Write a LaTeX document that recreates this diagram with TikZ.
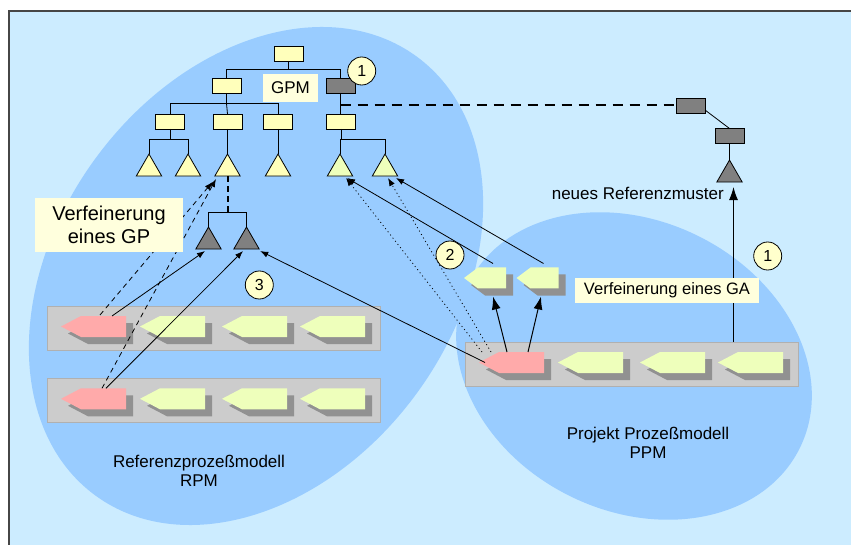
\documentclass[tikz,border=0pt]{standalone}
\usepackage{fontspec}
\setmainfont{Liberation Sans}
\usetikzlibrary{calc,arrows.meta,shapes.geometric}
\definecolor{bgblue}{RGB}{204,236,255}
\definecolor{ellblue}{RGB}{153,204,255}
\definecolor{treey}{RGB}{255,255,187}
\definecolor{trig}{RGB}{238,255,187}
\definecolor{pentg}{RGB}{238,255,187}
\definecolor{pinkc}{RGB}{255,170,170}
\definecolor{rowgray}{RGB}{204,204,204}
\definecolor{rowedge}{RGB}{176,176,176}
\definecolor{shadowc}{RGB}{145,145,145}
\definecolor{darkg}{RGB}{128,128,128}
\definecolor{creamc}{RGB}{255,255,221}
\definecolor{circc}{RGB}{255,255,204}
\definecolor{framec}{RGB}{70,70,70}
\tikzset{
  trect/.style={draw, fill=treey, line width=0.8pt, minimum width=29pt, minimum height=15pt, inner sep=0pt, outer sep=0pt},
  grect/.style={trect, fill=darkg},
  tri/.style={draw, fill=treey, line width=0.8pt, regular polygon, regular polygon sides=3, minimum size=29.3pt, inner sep=0pt, outer sep=0pt},
  grtri/.style={tri, fill=darkg},
  grtri2/.style={tri, fill=trig},
  rowbox/.style={draw=rowedge, fill=rowgray, line width=1pt, minimum width=333pt, minimum height=44pt, inner sep=0pt},
  pbox/.style={rectangle, draw=none, minimum height=21pt, inner sep=0pt, outer sep=0pt},
  lbl/.style={inner sep=0pt, font=\fontsize{17}{19}\selectfont},
  cream/.style={fill=creamc, inner sep=0pt},
  numc/.style={circle, draw, fill=circc, line width=0.8pt, minimum size=28pt, inner sep=0pt, font=\fontsize{16}{18}\selectfont},
  tline/.style={line width=0.8pt},
  arr/.style={line width=0.8pt, -{Latex[length=8pt,width=6pt]}},
  bigarr/.style={line width=1pt, -{Latex[length=13pt,width=9pt]}},
  thickdash/.style={line width=2pt, dash pattern=on 10pt off 7pt},
  thindash/.style={dash pattern=on 5pt off 4pt},
  dotline/.style={dash pattern=on 1pt off 3pt}
}
\newcommand\pentshape[5]{%
  \node[pbox, minimum width=#3] (#1) at (#2) {};
  \fill[shadowc] ($(#1.west)+(7,7)$) -- ($(#1.north west)+(#4+7,7)$) -- ($(#1.north east)+(7,7)$) -- ($(#1.south east)+(7,7)$) -- ($(#1.south west)+(#4+7,7)$) -- cycle;
  \fill[#5] (#1.west) -- ($(#1.north west)+(#4,0)$) -- (#1.north east) -- (#1.south east) -- ($(#1.south west)+(#4,0)$) -- cycle;
}
\begin{document}
\begin{tikzpicture}[x=1pt,y=-1pt]
\useasboundingbox (0,0) rectangle (851,545);
\fill[white] (0,0) rectangle (851,545);
\fill[bgblue] (9,11) rectangle (851,545);
\draw[framec, line width=1.5pt] (9,545) -- (9,11) -- (851,11);
% ellipses
\fill[ellblue, rotate around={53.8:(256,276)}] (256,276) ellipse [x radius=272, y radius=199];
\fill[ellblue, rotate around={-26.4:(634,366)}] (634,366) ellipse [x radius=185, y radius=145];

% ---- tree (GPM)
\node[trect] (root) at (288.5,53.5) {};
\node[trect] (l2a) at (226.5,85.5) {};
\node[grect] (l2b) at (340.5,85.5) {};
\node[trect] (l3a) at (170,121.5) {};
\node[trect] (l3b) at (227.5,121.5) {};
\node[trect] (l3c) at (278,121.5) {};
\node[trect] (l3d) at (341,121.5) {};
\node[tri] (t1) at (149,168.7) {};
\node[tri] (t2) at (188,168.7) {};
\node[tri] (t3) at (227.5,168.7) {};
\node[tri] (t4) at (278,168.7) {};
\node[grtri2] (t5) at (340,168.7) {};
\node[grtri2] (t6) at (385,168.7) {};
\node[grtri] (g1) at (208.5,241.7) {};
\node[grtri] (g2) at (246.5,241.7) {};

\draw[tline] (root.south) -- ++(0,8.5) coordinate (rb);
\draw[tline] (rb) -| (l2a.north);
\draw[tline] (rb) -| (l2b.north);
\draw[tline] (l2a.south) -- ++(0,10.5) coordinate (ab);
\draw[tline] (ab) -| (l3a.north);
\draw[tline] (ab) -- (l3b.north);
\draw[tline] (ab) -| (l3c.north);
\draw[tline] (l2b.south) -- (l2b.south |- l3d.north);
\draw[tline] (l3a.south) -- ++(0,10.5) coordinate (cb);
\draw[tline] (cb) -| (t1.north);
\draw[tline] (cb) -| (t2.north);
\draw[tline] (l3b.south) -- (t3.north);
\draw[tline] (l3c.south) -- (t4.north);
\draw[tline] (l3d.south) -- ++(0,10) coordinate (db);
\draw[tline] (db) -| (t5.north);
\draw[tline] (db) -| (t6.north);
\draw[line width=2pt, dash pattern=on 6pt off 4pt] (t3.south) -- ++(0,36) coordinate (eb);
\draw[tline] (eb) -| (g1.north);
\draw[tline] (eb) -| (g2.north);

% ---- right pattern
\node[grect] (rr1) at (690.5,105.5) {};
\node[grect] (rr2) at (729.5,136) {};
\node[grtri] (rt) at (729.5,174.7) {};
\draw[thickdash] (l2b.south |- rr1.west) -- (rr1.west);
\draw[tline] ($(rr1.south east)+(0,-3)$) -- (rr2.north);
\draw[tline] (rr2.south) -- (rt.north);

% ---- process rows
\node[rowbox] (row1) at (213.5,328) {};
\node[rowbox] (row2) at (213.5,400) {};
\node[rowbox] (row3) at (631.5,364) {};
\pentshape{p1a}{93.5,326.5}{65pt}{20}{pinkc}
\pentshape{p1b}{172.5,326.5}{65pt}{20}{pentg}
\pentshape{p1c}{254.5,326.5}{65pt}{20}{pentg}
\pentshape{p1d}{332.5,326.5}{65pt}{20}{pentg}
\pentshape{p2a}{93.5,398.8}{65pt}{20}{pinkc}
\pentshape{p2b}{172.5,398.8}{65pt}{20}{pentg}
\pentshape{p2c}{254.5,398.8}{65pt}{20}{pentg}
\pentshape{p2d}{332.5,398.8}{65pt}{20}{pentg}
\pentshape{p3a}{511.5,362.5}{65pt}{20}{pinkc}
\pentshape{p3b}{590.5,362.5}{65pt}{20}{pentg}
\pentshape{p3c}{672.5,362.5}{65pt}{20}{pentg}
\pentshape{p3d}{750.5,362.5}{65pt}{20}{pentg}
\pentshape{f1}{485,278}{42pt}{14}{pentg}
\pentshape{f2}{537.5,278}{42pt}{14}{pentg}

% ---- connectors
\draw[bigarr] ($(p3a.north west)+(28,0)$) -- ($(f1.south)+(8,8)$);
\draw[bigarr] ($(p3a.north west)+(49,0)$) -- ($(f2.south)+(3.5,8)$);
\draw[arr] ($(f1.north east)+(-13,-4)$) -- ($(t5.south)+(7,2)$);
\draw[arr] ($(f2.north east)+(-15,-4)$) -- ($(t6.south)+(11,2)$);
\draw[arr, dotline] ($(p3a.north west)+(3,0)$) -- ($(t5.south)+(6,2)$);
\draw[arr, dotline] ($(p3a.north west)+(12,0)$) -- ($(t6.south)+(3,2)$);
\draw[arr] ($(p3a.west)+(6,0)$) -- ($(g2.corner 3)+(1,2)$);
\draw[arr] ($(p1a.north east)+(-14,0)$) -- ($(g1.south)+(-3.5,2)$);
\draw[arr] ($(p2a.north east)+(-20,0)$) -- ($(g2.south)+(-3.5,2)$);
\draw[arr, thindash] ($(p1a.north east)+(-26,-1)$) -- ($(t3.south)+(-15,6)$);
\draw[arr, thindash] ($(p2a.north east)+(-24,0)$) -- ($(t3.south)+(-11.5,3)$);
\coordinate (gaTop) at ($(row3.north east)+(-65,0)$);
\coordinate (rtb) at ($(rt.south)+(0,5)$);
\draw[bigarr] (gaTop) -- (gaTop |- rtb);

% ---- labels
\node[cream, minimum width=55pt, minimum height=28pt, lbl] (gpm) at (290.5,88) {GPM};
\node[cream, minimum width=148pt, minimum height=54pt, align=center, font=\fontsize{20}{23}\selectfont] (vgp) at (109,225) {Verfeinerung\\eines GP};
\node[cream, minimum width=184pt, minimum height=25pt, font=\fontsize{16.5}{19}\selectfont] (vga) at (667,290.5) {Verfeinerung eines GA};
\node[lbl, anchor=east] (nrm) at (724,193) {neues Referenzmuster};
\node[lbl, align=center] (ppm) at (648,442.5) {Projekt Prozeßmodell\\PPM};
\node[lbl, align=center] (rpm) at (199,471) {Referenzprozeßmodell\\RPM};
\node[numc] (c1) at (361.7,71) {1};
\node[numc] (c2) at (450,255) {2};
\node[numc] (c3) at (259.3,285) {3};
\node[numc] (c4) at (767.7,256) {1};
\end{tikzpicture}
\end{document}
